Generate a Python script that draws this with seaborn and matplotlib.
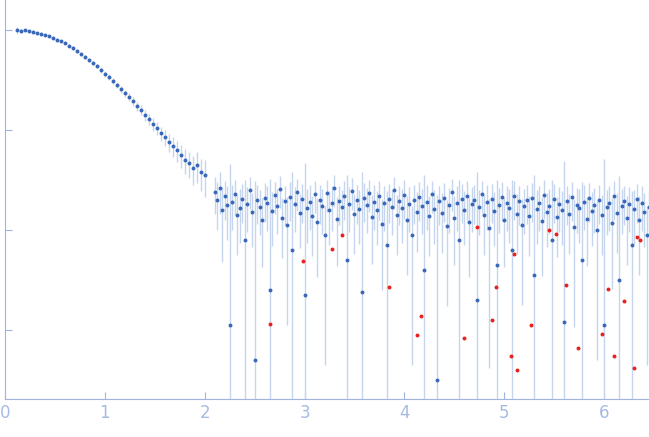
import numpy as np
import matplotlib
matplotlib.use("Agg")
import matplotlib.pyplot as plt
import seaborn as sns

# ---- smooth low-q part (log10 intensity) ----
q_curve = [0.12, 0.16, 0.20, 0.24, 0.28, 0.32, 0.36, 0.40, 0.44, 0.48, 0.52, 0.56,
           0.60, 0.64, 0.68, 0.72, 0.76, 0.80, 0.84, 0.88, 0.92, 0.96, 1.00, 1.04,
           1.08, 1.12, 1.16, 1.20, 1.24, 1.28, 1.32, 1.36, 1.40, 1.44, 1.48, 1.52,
           1.56, 1.60, 1.64, 1.68, 1.72, 1.76, 1.80, 1.84, 1.88, 1.92, 1.96, 2.00]
log_curve = [0.00, -0.01, 0.00, -0.01, -0.02, -0.03, -0.04, -0.05, -0.06, -0.08, -0.10, -0.11,
             -0.13, -0.16, -0.18, -0.21, -0.24, -0.27, -0.30, -0.33, -0.36, -0.40, -0.44, -0.47,
             -0.51, -0.55, -0.59, -0.63, -0.67, -0.71, -0.76, -0.80, -0.85, -0.89, -0.94, -0.98,
             -1.03, -1.07, -1.12, -1.16, -1.20, -1.25, -1.30, -1.33, -1.38, -1.35, -1.42, -1.45]
err_curve = [0.08, 0.04, 0.03, 0.03, 0.03, 0.03, 0.03, 0.03, 0.03, 0.03, 0.03, 0.03,
             0.03, 0.03, 0.04, 0.04, 0.04, 0.04, 0.05, 0.05, 0.05, 0.06, 0.06, 0.06,
             0.07, 0.07, 0.08, 0.08, 0.09, 0.10, 0.10, 0.11, 0.12, 0.13, 0.14, 0.15,
             0.16, 0.18, 0.20, 0.22, 0.24, 0.26, 0.28, 0.30, 0.32, 0.34, 0.36, 0.40]

# ---- noisy high-q part, one value every 0.025 starting at 2.10 ----
q_noise_start = 2.10
q_noise_step = 0.025
log_noise = [
    -1.62, -1.70, -1.58, -1.80, -1.66, -1.75, -2.95, -1.72, -1.64, -1.85, -1.78, -1.69, -2.10, -1.74, -1.60, -1.82, -3.30, -1.70, -1.77, -1.90, -1.68, -1.73, -2.60, -1.81, -1.65,
    -1.76, -1.59, -1.88, -1.71, -1.95, -1.67, -2.20, -1.74, -1.62, -1.83, -1.69, -2.65, -1.78, -1.72, -1.86, -1.64, -1.92, -1.70, -1.76, -2.05, -1.63, -1.80, -1.73, -1.58, -1.89,
    -1.71, -1.77, -1.66, -2.30, -1.74, -1.61, -1.84, -1.70, -1.79, -2.62, -1.68, -1.75, -1.63, -1.87, -1.72, -1.80, -1.66, -1.94, -1.73, -2.15, -1.69, -1.77, -1.60, -1.85, -1.71,
    -1.78, -1.65, -1.90, -1.74, -2.05, -1.70, -1.82, -1.67, -1.76, -2.40, -1.72, -1.86, -1.64, -1.79, -3.50, -1.71, -1.83, -1.68, -1.96, -1.75, -1.62, -1.88, -1.73, -2.10, -1.69,
    -1.80, -1.66, -1.92, -1.74, -1.70, -2.70, -1.77, -1.64, -1.85, -1.72, -1.98, -1.69, -1.81, -2.35, -1.75, -1.67, -1.90, -1.73, -1.78, -2.20, -1.66, -1.84, -1.71, -1.95, -1.76,
    -1.70, -1.86, -1.68, -2.45, -1.79, -1.73, -1.91, -1.65, -1.82, -1.76, -2.10, -1.69, -1.87, -1.74, -1.80, -2.92, -1.71, -1.84, -1.67, -1.97, -1.75, -1.78, -2.30, -1.72, -1.89,
    -1.68, -1.81, -1.75, -2.00, -1.70, -1.85, -2.95, -1.77, -1.73, -1.93, -1.66, -1.83, -2.50, -1.76, -1.71, -1.88, -1.74, -2.15, -1.79, -1.69, -1.90, -1.73, -1.82, -2.05, -1.77,
]
# relative error (linear); close to 1 means the lower bar runs far down
err_noise = [
    0.40, 0.50, 0.45, 0.70, 0.42, 0.55, 40.0, 0.48, 0.38, 0.60, 0.55, 0.42, 3.0, 0.48, 0.36, 0.55, 60.0, 0.42, 0.48, 0.66, 0.42, 0.48, 12.0, 0.55, 0.36,
    0.48, 0.36, 0.60, 0.42, 0.90, 0.42, 5.0, 0.48, 0.36, 0.55, 0.42, 20.0, 0.55, 0.48, 0.60, 0.36, 0.72, 0.42, 0.48, 0.95, 0.36, 0.55, 0.48, 0.36, 0.66,
    0.42, 0.48, 0.42, 6.0, 0.48, 0.36, 0.60, 0.42, 0.55, 15.0, 0.42, 0.48, 0.36, 0.66, 0.48, 0.55, 0.42, 0.78, 0.48, 2.5, 0.42, 0.48, 0.36, 0.60, 0.42,
    0.55, 0.42, 0.72, 0.48, 0.95, 0.42, 0.60, 0.42, 0.48, 8.0, 0.48, 0.60, 0.36, 0.55, 70.0, 0.42, 0.60, 0.42, 0.84, 0.48, 0.36, 0.66, 0.48, 3.0, 0.42,
    0.55, 0.42, 0.72, 0.48, 0.42, 18.0, 0.48, 0.36, 0.60, 0.48, 0.96, 0.42, 0.55, 6.0, 0.48, 0.42, 0.66, 0.48, 0.55, 4.0, 0.42, 0.60, 0.42, 0.84, 0.48,
    0.42, 0.60, 0.42, 9.0, 0.55, 0.48, 0.72, 0.42, 0.55, 0.48, 3.0, 0.42, 0.60, 0.48, 0.55, 40.0, 0.42, 0.60, 0.42, 0.90, 0.48, 0.55, 5.0, 0.48, 0.66,
    0.42, 0.55, 0.48, 0.95, 0.42, 0.60, 45.0, 0.48, 0.48, 0.78, 0.42, 0.60, 10.0, 0.48, 0.42, 0.66, 0.48, 2.5, 0.55, 0.42, 0.72, 0.48, 0.55, 0.95, 0.48,
]

# ---- outliers drawn in red ----
q_red = [2.65, 2.98, 3.28, 3.38, 3.85, 4.13, 4.17, 4.60, 4.73, 4.88, 4.92, 5.07, 5.10,
         5.13, 5.27, 5.45, 5.52, 5.62, 5.74, 5.98, 6.04, 6.10, 6.20, 6.30, 6.33, 6.36]
log_red = [-2.94, -2.31, -2.19, -2.05, -2.57, -3.05, -2.86, -3.08, -1.97, -2.90, -2.57, -3.26, -2.24,
           -3.40, -2.95, -2.00, -2.04, -2.55, -3.18, -3.04, -2.59, -3.26, -2.71, -3.38, -2.07, -2.10]

q_noise = q_noise_start + q_noise_step * np.arange(len(log_noise))
q_all = np.concatenate([q_curve, q_noise])
I_all = 10 ** np.concatenate([log_curve, log_noise])
rel_all = np.concatenate([err_curve, err_noise])
err_all = I_all * rel_all

blue = "#3a68b8"
light = "#c6d5ee"
axis_col = "#9fb3dc"

sns.set_style("white")
fig = plt.figure(figsize=(6.49, 4.37), dpi=100)
ax = fig.add_axes([0.0077, 0.087, 0.9923, 0.913])

ax.errorbar(q_all, I_all, yerr=err_all, fmt="none", ecolor=light, elinewidth=1, zorder=1)
sns.scatterplot(x=q_all, y=I_all, ax=ax, color=blue, s=8, linewidth=0, zorder=2)
sns.scatterplot(x=q_red, y=10 ** np.array(log_red), ax=ax, color="#e8201e", s=8, linewidth=0, zorder=3)

ax.set_yscale("log")
ax.set_xlim(0, 6.45)
ax.set_ylim(10 ** -3.69, 10 ** 0.30)
ax.set_xticks([0, 1, 2, 3, 4, 5, 6])
ax.set_yticks([1, 0.1, 0.01, 0.001])
ax.yaxis.set_minor_locator(matplotlib.ticker.NullLocator())
ax.set_yticklabels([])
for side in ["top", "right"]:
    ax.spines[side].set_visible(False)
for side in ["left", "bottom"]:
    ax.spines[side].set_color(axis_col)
ax.tick_params(axis="both", colors=axis_col, labelcolor="#a7bae2", labelsize=12,
               length=5, direction="in", left=True, bottom=True)

fig.savefig("out.png", dpi=100)
